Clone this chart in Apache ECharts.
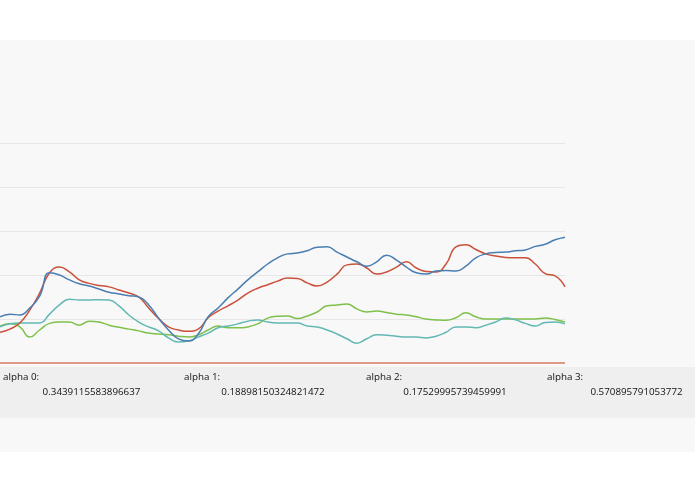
<!DOCTYPE html>
<html><head><meta charset="utf-8">
<script src="https://cdn.jsdelivr.net/npm/echarts@6/dist/echarts.min.js"></script>
<style>html,body{margin:0;padding:0;background:#fff;}#c{width:695px;height:494px;}</style>
</head><body><div id="c"></div>
<script>
const categories = Array.from({length:58}, (_, i) => String(i));
const blueValues = [1.05,1.11,1.09,1.25,1.52,2.05,2.00,1.89,1.80,1.75,1.68,1.61,1.57,1.53,1.50,1.32,1.02,0.75,0.55,0.50,0.66,1.05,1.25,1.48,1.68,1.89,2.07,2.25,2.39,2.48,2.50,2.55,2.63,2.64,2.52,2.41,2.30,2.20,2.30,2.45,2.34,2.18,2.05,2.02,2.09,2.10,2.09,2.20,2.39,2.48,2.51,2.52,2.55,2.57,2.65,2.70,2.80,2.86];
const redValues = [0.70,0.77,0.91,1.20,1.59,2.05,2.18,2.07,1.89,1.81,1.76,1.73,1.66,1.59,1.50,1.25,1.01,0.82,0.75,0.72,0.77,1.03,1.18,1.30,1.43,1.59,1.70,1.78,1.86,1.93,1.92,1.82,1.75,1.84,2.02,2.23,2.25,2.16,2.02,2.07,2.18,2.30,2.16,2.08,2.07,2.25,2.64,2.69,2.58,2.48,2.43,2.40,2.39,2.39,2.25,2.03,1.98,1.73];
const greenValues = [0.84,0.89,0.82,0.59,0.75,0.90,0.93,0.93,0.86,0.95,0.93,0.86,0.81,0.77,0.73,0.68,0.66,0.64,0.61,0.59,0.64,0.75,0.84,0.80,0.80,0.82,0.89,1.02,1.06,1.07,1.01,1.07,1.16,1.30,1.32,1.34,1.23,1.16,1.18,1.15,1.11,1.09,1.05,1.00,0.98,0.97,1.03,1.14,1.05,1.00,1.00,1.00,1.00,1.00,1.00,1.02,0.99,0.93];
const tealValues = [0.82,0.89,0.91,0.91,0.91,1.11,1.32,1.45,1.43,1.43,1.44,1.43,1.30,1.09,0.93,0.82,0.73,0.57,0.48,0.50,0.59,0.68,0.80,0.84,0.89,0.95,0.98,0.93,0.91,0.91,0.91,0.84,0.82,0.75,0.66,0.55,0.45,0.55,0.64,0.63,0.61,0.59,0.59,0.57,0.61,0.70,0.82,0.82,0.80,0.86,0.93,1.02,0.98,0.90,0.84,0.92,0.93,0.89];
const alphaLabels = ['alpha 0:', 'alpha 1:', 'alpha 2:', 'alpha 3:'];
const alphaValues = ['0.3439115583896637', '0.18898150324821472', '0.17529995739459991', '0.570895791053772'];

const chart = echarts.init(document.getElementById('c'));
const colX = [3, 184, 366, 547];
const valX = [91.5, 273, 455, 636.5];
const font = '9.8px "Open Sans", sans-serif';
const graphics = [
  {type:'rect', z:-10, silent:true, shape:{x:0,y:40,width:695,height:412}, style:{fill:'#f8f8f8'}},
  {type:'rect', z:-9, silent:true, shape:{x:0,y:367,width:695,height:51}, style:{fill:'#efefef'}}
];
alphaLabels.forEach((t, i) => {
  graphics.push({type:'text', x:colX[i], y:377.5, style:{text:t, fill:'#111', font, textVerticalAlign:'middle'}});
  graphics.push({type:'text', x:valX[i], y:392.5, style:{text:alphaValues[i], fill:'#111', font, textAlign:'center', textVerticalAlign:'middle'}});
});
const mk = (data, color) => ({type:'line', data, smooth:0.5, symbol:'none', lineStyle:{color, width:1.5}, itemStyle:{color}});
const series = [mk(greenValues,'#7ec04c'), mk(tealValues,'#62b8b2'), mk(redValues,'#c9503a'), mk(blueValues,'#4a7db2')];
series[0].markLine = {silent:true, symbol:'none', z:10, label:{show:false}, emphasis:{disabled:true}, lineStyle:{color:'#d87a62', width:1.5, type:'solid', opacity:1}, data:[{yAxis:0}]};
chart.setOption({
  animation:false,
  grid:{left:0, right:130, top:143, bottom:131},
  xAxis:{type:'category', data:categories, boundaryGap:false,
    axisLine:{show:false}, axisTick:{show:false}, axisLabel:{show:false}, splitLine:{show:false}},
  yAxis:{type:'value', min:0, max:5, interval:1, axisLine:{show:false}, axisTick:{show:false}, axisLabel:{show:false},
    splitLine:{showMinLine:false, lineStyle:{color:'#e6e6e6', width:1}}},
  graphic:graphics,
  series
});
</script></body></html>
